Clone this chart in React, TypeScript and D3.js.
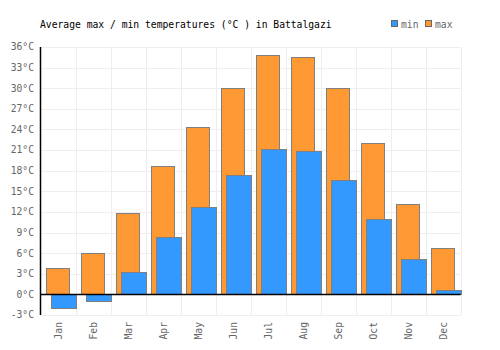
import React, { useRef, useEffect } from "react";
import * as d3 from "d3";

const months = ["Jan", "Feb", "Mar", "Apr", "May", "Jun", "Jul", "Aug", "Sep", "Oct", "Nov", "Dec"];
const maxTemps = [3.9, 6.0, 11.9, 18.7, 24.3, 30.1, 34.9, 34.6, 30.1, 22.1, 13.2, 6.7];
const minTemps = [-2.0, -0.9, 3.2, 8.3, 12.7, 17.4, 21.2, 20.8, 16.7, 10.9, 5.1, 0.7];
const yTicks = [-3, 0, 3, 6, 9, 12, 15, 18, 21, 24, 27, 30, 33, 36];

const W = 500;
const H = 350;
const FONT = "'DejaVu Sans Mono', monospace";
const FS = 9.7;

export default function App() {
  const ref = useRef<SVGSVGElement>(null);

  useEffect(() => {
    const svg = d3.select(ref.current);
    svg.selectAll("*").remove();

    const left = 40.5;
    const right = 460.5;
    const top = 47;
    const bottom = 315;

    const x = d3.scaleBand().domain(months).range([left, right]);
    const y = d3.scaleLinear().domain([-3, 36]).range([bottom, top]);
    const bw = x.bandwidth();

    // grid
    const grid = svg.append("g");
    grid
      .selectAll(".hg")
      .data(yTicks)
      .enter()
      .append("line")
      .attr("x1", left)
      .attr("x2", right)
      .attr("y1", (d) => Math.round(y(d)) + 0.5)
      .attr("y2", (d) => Math.round(y(d)) + 0.5)
      .attr("stroke", "#eeeeee")
      .attr("stroke-width", 1);
    grid
      .selectAll(".vg")
      .data(months)
      .enter()
      .append("line")
      .attr("x1", (d) => Math.round(x(d)! + bw) + 0.5)
      .attr("x2", (d) => Math.round(x(d)! + bw) + 0.5)
      .attr("y1", top)
      .attr("y2", bottom)
      .attr("stroke", "#eeeeee")
      .attr("stroke-width", 1);

    // max bars
    svg
      .append("g")
      .selectAll("rect")
      .data(months)
      .enter()
      .append("rect")
      .attr("x", (d) => Math.round(x(d)! + bw * 0.17) + 0.5)
      .attr("width", Math.round(bw * 0.66))
      .attr("y", (d, i) => Math.round(y(maxTemps[i])) + 0.5)
      .attr("height", (d, i) => Math.round(y(0)) - Math.round(y(maxTemps[i])))
      .attr("fill", "#ff9933")
      .attr("stroke", "#808080")
      .attr("stroke-width", 1);

    // min bars
    svg
      .append("g")
      .selectAll("rect")
      .data(months)
      .enter()
      .append("rect")
      .attr("x", (d) => Math.round(x(d)! + bw * 0.3) + 0.5)
      .attr("width", Math.round(bw * 0.7))
      .attr("y", (d, i) => Math.round(y(Math.max(0, minTemps[i]))) + 0.5)
      .attr("height", (d, i) => Math.abs(Math.round(y(minTemps[i])) - Math.round(y(0))))
      .attr("fill", "#3399ff")
      .attr("stroke", "#808080")
      .attr("stroke-width", 1);

    // axes lines
    svg
      .append("line")
      .attr("x1", left)
      .attr("x2", left)
      .attr("y1", top)
      .attr("y2", bottom)
      .attr("stroke", "#000")
      .attr("stroke-width", 1.5);
    svg
      .append("line")
      .attr("x1", left)
      .attr("x2", right)
      .attr("y1", Math.round(y(0)) + 0.5)
      .attr("y2", Math.round(y(0)) + 0.5)
      .attr("stroke", "#000")
      .attr("stroke-width", 1.5);

    // y labels
    svg
      .append("g")
      .selectAll("text")
      .data(yTicks)
      .enter()
      .append("text")
      .attr("x", 34)
      .attr("y", (d) => y(d))
      .attr("dy", "0.35em")
      .attr("text-anchor", "end")
      .attr("font-family", FONT)
      .attr("font-size", FS)
      .attr("fill", "#666")
      .text((d) => `${d}°C`);

    // x labels
    svg
      .append("g")
      .selectAll("text")
      .data(months)
      .enter()
      .append("text")
      .attr("transform", (d) => `translate(${x(d)! + bw / 2 + 3.5},${bottom + 7}) rotate(-90)`)
      .attr("text-anchor", "end")
      .attr("font-family", FONT)
      .attr("font-size", FS)
      .attr("fill", "#666")
      .text((d) => d);

    // title
    svg
      .append("text")
      .attr("x", 40)
      .attr("y", 28)
      .attr("font-family", FONT)
      .attr("font-size", FS)
      .attr("fill", "#000")
      .text("Average max / min temperatures (°C ) in Battalgazi");

    // legend
    const legend = [
      { label: "min", color: "#3399ff", x: 391.5 },
      { label: "max", color: "#ff9933", x: 425.5 },
    ];
    const lg = svg.append("g");
    legend.forEach((l) => {
      lg.append("rect")
        .attr("x", l.x)
        .attr("y", 20.5)
        .attr("width", 6)
        .attr("height", 6)
        .attr("fill", l.color)
        .attr("stroke", "#666")
        .attr("stroke-width", 1);
      lg.append("text")
        .attr("x", l.x + 9.5)
        .attr("y", 28)
        .attr("font-family", FONT)
        .attr("font-size", FS)
        .attr("fill", "#666")
        .text(l.label);
    });
  }, []);

  return (
    <svg
      ref={ref}
      width={W}
      height={H}
      style={{ position: "absolute", left: 0, top: 0, background: "#fff" }}
    />
  );
}
